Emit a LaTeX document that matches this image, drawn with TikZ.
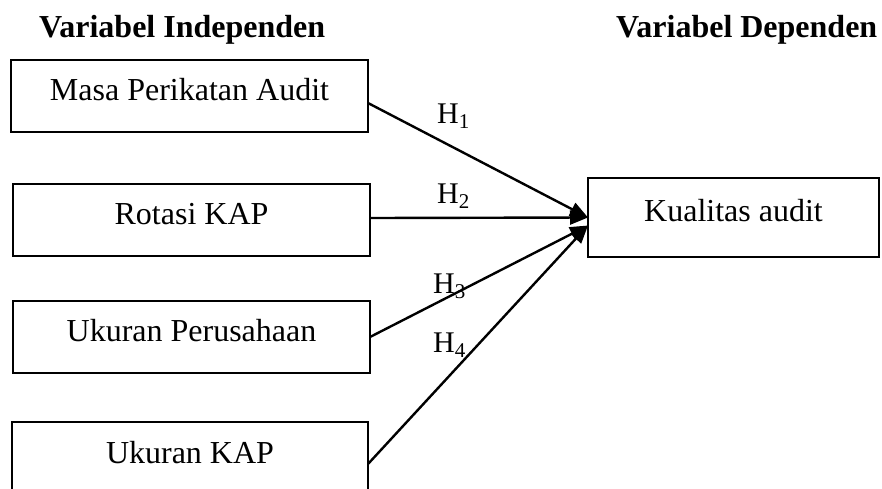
\documentclass[tikz,border=0pt]{standalone}
\usepackage{fontspec}
\setmainfont{Liberation Serif}
\usetikzlibrary{arrows.meta}
\tikzset{
  varbox/.style={draw, line width=1.8pt, rectangle, inner sep=0pt, outer sep=0pt,
    font=\fontsize{32}{38}\selectfont, text height=22pt, text depth=14pt},
  conn/.style={line width=2.4pt, -{Triangle[length=18pt,width=14pt]}},
  hlabel/.style={anchor=base west, inner sep=0pt, font=\fontsize{30}{36}\selectfont},
  title/.style={anchor=base west, inner sep=0pt, font=\fontsize{32}{38}\selectfont\bfseries}
}
\begin{document}
\begin{tikzpicture}[x=1pt, y=-1pt]
\useasboundingbox (0,0) rectangle (882,488);
\clip (0,0) rectangle (882,488);
\node[title] (t1) at (39,37) {Variabel Independen};
\node[title] (t2) at (616,37) {Variabel Dependen};
\node[varbox, minimum width=357pt, minimum height=72pt] (b1) at (189.5,96) {Masa Perikatan Audit};
\node[varbox, minimum width=357pt, minimum height=72pt] (b2) at (191.5,220) {Rotasi KAP};
\node[varbox, minimum width=357pt, minimum height=72pt] (b3) at (191.5,337) {Ukuran Perusahaan};
\node[varbox, minimum width=356pt, minimum height=75pt] (b4) at (190,459.5) {Ukuran KAP};
\node[varbox, minimum width=291pt, minimum height=79pt] (k) at (733.5,217.5) {Kualitas audit};
\draw[conn] ([yshift=-7pt]b1.east) -- (k.west);
\draw[conn] ([yshift=2pt]b2.east) -- (k.west);
\draw[conn] (b3.east) -- ([yshift=-8pt]k.west);
\draw[conn] ([yshift=-4.5pt]b4.east) -- ([yshift=-8pt]k.west);
\node[hlabel] (h1) at (437,123) {H\textsubscript{1}};
\node[hlabel] (h2) at (437,203) {H\textsubscript{2}};
\node[hlabel] (h3) at (433,293) {H\textsubscript{3}};
\node[hlabel] (h4) at (433,352) {H\textsubscript{4}};
\end{tikzpicture}
\end{document}
